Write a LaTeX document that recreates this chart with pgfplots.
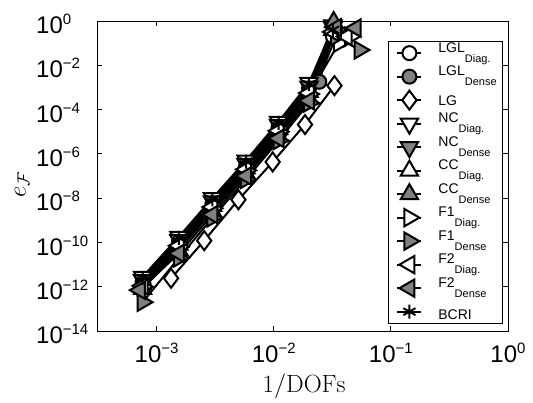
\documentclass[border=0pt]{standalone}
\usepackage[no-math]{fontspec}
\setmainfont{Liberation Sans}
\usepackage{pgfplots}
\pgfplotsset{compat=1.18}
\definecolor{mgray}{RGB}{128,128,128}
\newcommand\tk[1]{10\raisebox{9pt}{\fontsize{15}{15}\selectfont #1}}
\newcommand\lab[2]{\raisebox{5pt}{#1\raisebox{-10pt}{\fontsize{11}{11}\selectfont #2}}}
\newcommand\labs[2]{\raisebox{#1}{#2}}
\begin{document}
\begin{tikzpicture}
\begin{axis}[
  scale only axis, width=411pt, height=310pt,
  xmode=log, ymode=log,
  xmin=3.1e-4, xmax=1, ymin=1e-14, ymax=1,
  xtick={1e-3,1e-2,1e-1,1}, xticklabels={\tk{−3},\tk{−2},\tk{−1},\tk{0}},
  ytick={1e-14,1e-12,1e-10,1e-8,1e-6,1e-4,1e-2,1},
  yticklabels={\tk{−14},\tk{−12},\tk{−10},\tk{−8},\tk{−6},\tk{−4},\tk{−2},\tk{0}},
  xminorticks=false, yminorticks=false,
  tick align=inside, major tick length=5pt,
  axis line style={line width=0.8pt}, every tick/.style={black, line width=0.8pt},
  tick label style={font=\fontsize{24}{24}\selectfont, inner sep=0pt},
  xticklabel style={anchor=north, yshift=-12pt},
  yticklabel style={anchor=west, xshift=-61pt, yshift=-3pt},
  xlabel={$1/\mathrm{DOFs}$}, ylabel={$e_{\mathcal{F}}$},
  label style={font=\fontsize{26}{26}\selectfont},
  xlabel style={at={(axis description cs:0.504,-0.177)}, anchor=center},
  ylabel style={at={(axis description cs:-0.182,0.471)}, anchor=center},
  legend style={at={(axis description cs:0.988,0.9355)}, anchor=north east,
    draw=black, line width=0.8pt, inner xsep=6pt, inner ysep=0pt, row sep=0pt, column sep=0pt,
    font=\fontsize{14}{14}\selectfont,
    nodes={inner sep=0pt, text height=16pt, text depth=7.5pt}},
  legend cell align=left,
  legend image code/.code={\path (-2pt,0pt) (40pt,0pt);\draw[line width=2pt, mark repeat=2,mark phase=2] plot coordinates {(0pt,0pt)(12pt,0pt)(24pt,0pt)};},
  every axis plot/.append style={black, line width=2pt},
]
% LGL Diag.
\addplot[mark=*, mark size=7pt, mark options={fill=white}] coordinates {
(7.6e-4,1.6e-12)(1.55e-3,1e-10)(3.0e-3,5.6e-9)(5.8e-3,2.8e-7)(1.1e-2,1.6e-5)(2.0e-2,8.9e-4)(3.2e-2,0.2)(3.8e-2,0.14)};
% LGL Dense
\addplot[mark=*, mark size=7pt, mark options={fill=mgray}] coordinates {
(7.8e-4,1.1e-12)(1.6e-3,7.1e-11)(3.1e-3,4e-9)(6.0e-3,2e-7)(1.15e-2,1.1e-5)(2.45e-2,1.8e-3)(3.3e-2,0.5)};
% LG
\addplot[mark=diamond*, mark size=9.5pt, mark options={fill=white}] coordinates {
(1.33e-3,2.4e-12)(2.55e-3,1.2e-10)(5.0e-3,8.5e-9)(9.8e-3,4.3e-7)(1.85e-2,2.1e-5)(3.3e-2,1.2e-3)};
% NC Diag.
\addplot[mark=triangle*, mark size=10pt, mark options={fill=white, rotate=180}] coordinates {
(7.6e-4,2.8e-12)(1.55e-3,1.8e-10)(3.0e-3,1e-8)(5.8e-3,5e-7)(1.1e-2,2.8e-5)(2.0e-2,1.6e-3)(3.2e-2,0.5)};
% NC Dense
\addplot[mark=triangle*, mark size=10pt, mark options={fill=mgray, rotate=180}] coordinates {
(7.6e-4,2e-12)(1.55e-3,1.26e-10)(3.0e-3,7.1e-9)(5.8e-3,3.5e-7)(1.1e-2,2e-5)(2.0e-2,1.1e-3)(3.2e-2,0.63)};
% CC Diag.
\addplot[mark=triangle*, mark size=10pt, mark options={fill=white}] coordinates {
(7.6e-4,1.3e-12)(1.55e-3,7.9e-11)(3.0e-3,4.5e-9)(5.8e-3,2.2e-7)(1.1e-2,1.3e-5)(2.0e-2,6.3e-4)(3.2e-2,0.4)(3.8e-2,0.16)};
% CC Dense
\addplot[mark=triangle*, mark size=10pt, mark options={fill=mgray}] coordinates {
(7.6e-4,7.9e-13)(1.55e-3,4.5e-11)(3.0e-3,2.5e-9)(5.8e-3,1.3e-7)(1.1e-2,6.3e-6)(2.0e-2,3.2e-4)(3.25e-2,0.9)};
% F1 Diag.
\addplot[mark=triangle*, mark size=10pt, mark options={fill=white, rotate=-90}] coordinates {
(7.6e-4,1e-12)(1.55e-3,6.3e-11)(3.0e-3,3.5e-9)(5.8e-3,1.8e-7)(1.1e-2,1e-5)(2.0e-2,5e-4)(3.6e-2,0.1)(4.5e-2,0.2)};
% F1 Dense
\addplot[mark=triangle*, mark size=10pt, mark options={fill=mgray, rotate=-90}] coordinates {
(7.6e-4,2e-13)(1.55e-3,2e-11)(3.0e-3,1.3e-9)(5.8e-3,7.1e-8)(1.1e-2,4e-6)(2.0e-2,2e-4)(3.4e-2,0.2)(5.4e-2,4.9e-2)};
% F2 Diag.
\addplot[mark=triangle*, mark size=10pt, mark options={fill=white, rotate=90}] coordinates {
(7.6e-4,1.1e-12)(1.55e-3,7.1e-11)(3.0e-3,4e-9)(5.8e-3,2e-7)(1.1e-2,1.1e-5)(2.0e-2,5.6e-4)(3.2e-2,0.32)(4.2e-2,0.2)};
% F2 Dense
\addplot[mark=triangle*, mark size=10pt, mark options={fill=mgray, rotate=90}] coordinates {
(7.2e-4,7e-13)(1.55e-3,3.2e-11)(3.0e-3,1.8e-9)(5.8e-3,1e-7)(1.1e-2,5e-6)(2.0e-2,2.5e-4)(3.4e-2,0.5)(5e-2,0.48)};
% BCRI
\addplot[mark=asterisk, mark size=7pt] coordinates {
(7.6e-4,2.5e-12)(1.55e-3,1.6e-10)(3e-3,8.9e-9)(5.8e-3,4.5e-7)(1.1e-2,2.5e-5)(2.0e-2,1.4e-3)(3.2e-2,0.4)};
\legend{\lab{LGL}{Diag.},\lab{LGL}{Dense},\labs{-1pt}{LG},\lab{NC}{Diag.},\lab{NC}{Dense},\lab{CC}{Diag.},\lab{CC}{Dense},\lab{F1}{Diag.},\lab{F1}{Dense},\lab{F2}{Diag.},\lab{F2}{Dense},\labs{-4pt}{BCRI}}
\end{axis}
\pgfresetboundingbox
\useasboundingbox ([shift={(-97pt,-71pt)}]current axis.south west) rectangle ([shift={(25pt,21pt)}]current axis.north east);
\end{tikzpicture}
\end{document}
